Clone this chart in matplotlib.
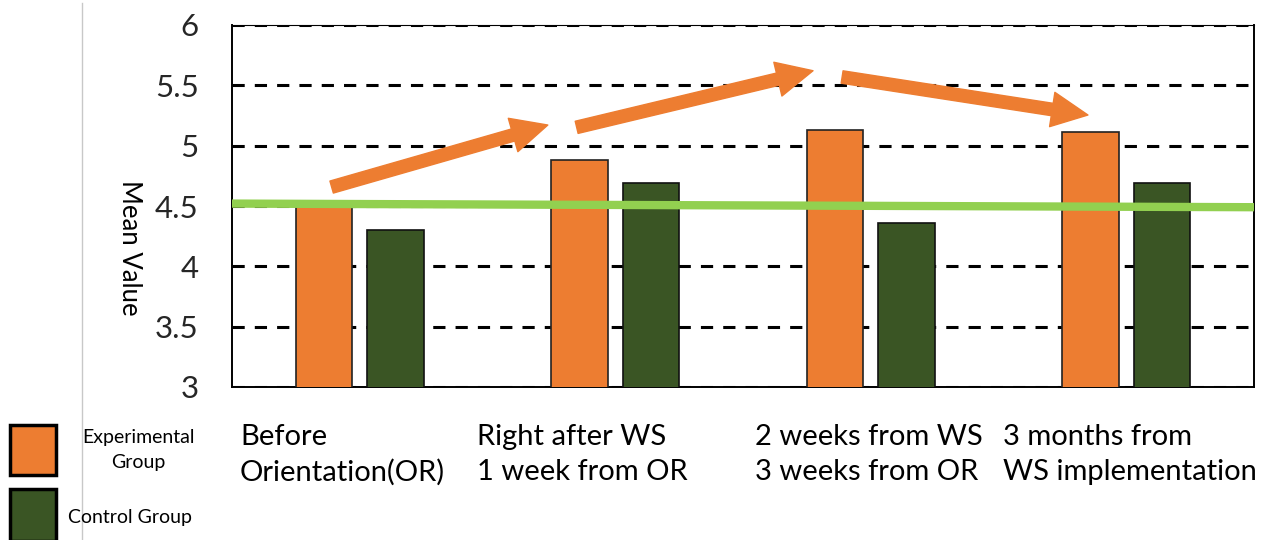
import numpy as np
import matplotlib.pyplot as plt
from matplotlib.patches import Rectangle, FancyArrowPatch, ArrowStyle
from matplotlib.lines import Line2D

plt.rcParams['font.family'] = ['Lato', 'DejaVu Sans']

# %% Data
stages = ['Before\nOrientation(OR)', 'Right after WS\n1 week from OR',
          '2 weeks from WS\n3 weeks from OR', '3 months from\nWS implementation']
experimental = [4.50, 4.88, 5.13, 5.11]
control = [4.30, 4.69, 4.36, 4.69]
# reference level line (start, end)
baseline = [4.52, 4.49]
# trend arrows: (x0, y0, x1, y1) in data units
trend_arrows = [(-0.11, 4.657, 0.736, 5.171),
                (0.849, 5.152, 1.774, 5.621),
                (1.888, 5.569, 2.850, 5.254)]

ORANGE = '#ED7D31'
DKGREEN = '#3A5524'
LTGREEN = '#92D050'

W, H = 1269, 540
fig = plt.figure(figsize=(W / 100, H / 100), dpi=100)
ax = fig.add_axes([232 / W, 1 - 387 / H, 1022 / W, 362 / H])

x = np.arange(len(stages))
bw = 0.22
ax.bar(x - 0.14, experimental, bw, bottom=0, color=ORANGE, edgecolor='#222222', lw=1.2, zorder=3)
ax.bar(x + 0.14, control, bw, bottom=0, color=DKGREEN, edgecolor='#111111', lw=1.2, zorder=3)

ax.plot([-0.5, 3.5], baseline, color=LTGREEN, lw=6, zorder=4, solid_capstyle='butt')

for x0, y0, x1, y1 in trend_arrows:
    arr = FancyArrowPatch((x0, y0), (x1, y1),
                          arrowstyle=ArrowStyle.Simple(head_length=26, head_width=25, tail_width=9),
                          mutation_scale=1, color=ORANGE, shrinkA=0, shrinkB=0,
                          zorder=5, clip_on=False)
    ax.add_patch(arr)

ax.set_xlim(-0.5, 3.5)
ax.set_ylim(3, 6)
ax.set_yticks([3, 3.5, 4, 4.5, 5, 5.5, 6])
ax.set_yticklabels(['3', '3.5', '4', '4.5', '5', '5.5', '6'])
ax.set_xticks([])
ax.tick_params(axis='y', length=0, pad=24, labelsize=22.5, labelcolor='#262626')
ax.yaxis.grid(True, color='black', lw=2.2, linestyle=(0, (4, 3.3)), zorder=1)
ax.set_axisbelow(True)
for side in ['left', 'right', 'bottom']:
    ax.spines[side].set_linewidth(1.4)
ax.spines['top'].set_linewidth(0.8)

fig.text(129 / W, 1 - 248 / H, 'Mean Value', rotation=-90, fontsize=18.5,
         ha='center', va='center', color='black')

# category labels under the groups
label_x = [240, 477, 755, 1003]
for lx, txt in zip(label_x, stages):
    fig.text(lx / W, 1 - 424 / H, txt, fontsize=21, ha='left', va='top',
             linespacing=1.42, color='black')

# legend
fig.patches.append(Rectangle((10 / W, 1 - 475 / H), 46 / W, 50 / H, transform=fig.transFigure,
                             facecolor=ORANGE, edgecolor='black', lw=2.5))
fig.patches.append(Rectangle((10 / W, 1 - 541 / H), 46 / W, 52 / H, transform=fig.transFigure,
                             facecolor=DKGREEN, edgecolor='black', lw=2.5, clip_on=False))
fig.text(138 / W, 1 - 450 / H, 'Experimental\nGroup', fontsize=14, ha='center', va='center',
         linespacing=1.55)
fig.text(130 / W, 1 - 518 / H, 'Control Group', fontsize=14, ha='center', va='center')

fig.lines.append(Line2D([82 / W, 82 / W], [0, 1 - 3 / H], transform=fig.transFigure,
                        color='#C8C8C8', lw=1))

fig.savefig('out.png', dpi=100)
